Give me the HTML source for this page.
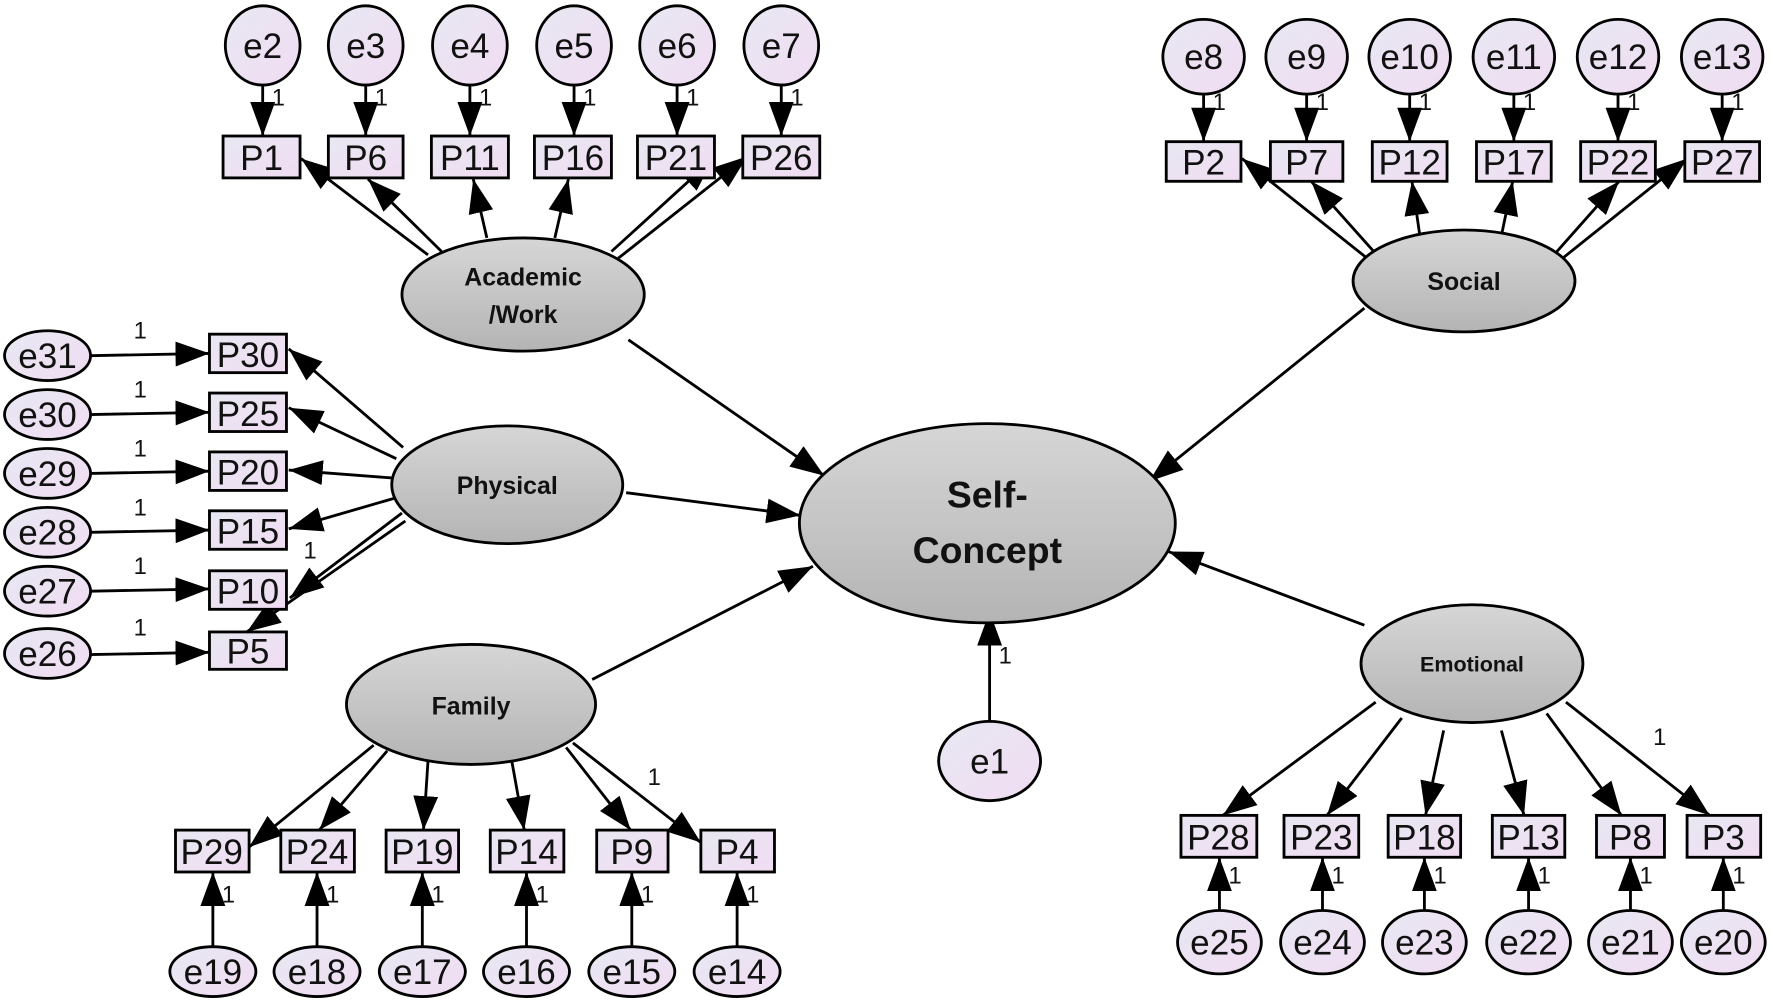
<!DOCTYPE html>
<html><head><meta charset="utf-8"><style>
html,body{margin:0;padding:0;background:#fff;}
svg{display:block;}
text{font-family:"Liberation Sans",sans-serif;fill:#111;}
.b{font-weight:bold;}
</style></head><body>
<svg width="1772" height="1008" viewBox="0 0 1565 890" xmlns="http://www.w3.org/2000/svg">
<defs>
<marker id="a" viewBox="0 0 30 22" refX="30" refY="11" markerWidth="30" markerHeight="22" markerUnits="userSpaceOnUse" orient="auto"><path d="M0,0 L30,11 L0,22 Z" fill="#000"/></marker>
<linearGradient id="g" x1="0" y1="0" x2="0" y2="1"><stop offset="0" stop-color="#d6d6d6"/><stop offset="1" stop-color="#b4b4b4"/></linearGradient>
<linearGradient id="p" x1="0" y1="0" x2="1" y2="1"><stop offset="0" stop-color="#e8e8f2"/><stop offset="1" stop-color="#f0dcf2"/></linearGradient>
</defs>
<g stroke="#000" stroke-width="2.5" fill="none" marker-end="url(#a)">
<line x1="232" y1="76" x2="232" y2="120"/><line x1="323" y1="76" x2="323" y2="120"/><line x1="415" y1="76" x2="415" y2="120"/><line x1="507" y1="76" x2="507" y2="120"/><line x1="598" y1="76" x2="598" y2="120"/><line x1="690" y1="76" x2="690" y2="120"/>
<line x1="1063" y1="84" x2="1063" y2="125"/><line x1="1154" y1="84" x2="1154" y2="125"/><line x1="1245" y1="84" x2="1245" y2="125"/><line x1="1337" y1="84" x2="1337" y2="125"/><line x1="1429" y1="84" x2="1429" y2="125"/><line x1="1521" y1="84" x2="1521" y2="125"/>
<line x1="378" y1="225" x2="266" y2="140"/><line x1="390" y1="222" x2="325" y2="158"/><line x1="430" y1="210" x2="418" y2="158"/><line x1="490" y1="210" x2="502" y2="158"/><line x1="540" y1="222" x2="630" y2="140"/><line x1="546" y1="228" x2="660" y2="138"/>
<line x1="1210" y1="230" x2="1097" y2="140"/><line x1="1216" y1="225" x2="1158" y2="160"/><line x1="1254" y1="208" x2="1247" y2="160"/><line x1="1326" y1="208" x2="1336" y2="160"/><line x1="1375" y1="222" x2="1430" y2="160"/><line x1="1380" y1="228" x2="1490" y2="140"/>
<line x1="80" y1="314" x2="185" y2="312"/><line x1="80" y1="366" x2="185" y2="364"/><line x1="80" y1="418" x2="185" y2="416"/><line x1="80" y1="470" x2="185" y2="468"/><line x1="80" y1="522" x2="185" y2="520"/><line x1="80" y1="578" x2="185" y2="576"/>
<line x1="356" y1="395" x2="255" y2="308"/><line x1="350" y1="405" x2="255" y2="360"/><line x1="346" y1="422" x2="255" y2="415"/><line x1="348" y1="440" x2="255" y2="467"/><line x1="355" y1="453" x2="256" y2="528"/><line x1="358" y1="460" x2="218" y2="558"/>
<line x1="330" y1="658" x2="220" y2="748"/><line x1="342" y1="663" x2="282" y2="733"/><line x1="378" y1="672" x2="374" y2="733"/><line x1="452" y1="672" x2="463" y2="733"/><line x1="500" y1="660" x2="557" y2="733"/><line x1="506" y1="656" x2="619" y2="744"/>
<line x1="188" y1="840" x2="188" y2="770"/><line x1="280" y1="840" x2="280" y2="770"/><line x1="373" y1="840" x2="373" y2="770"/><line x1="465" y1="840" x2="465" y2="770"/><line x1="558" y1="840" x2="558" y2="770"/><line x1="651" y1="840" x2="651" y2="770"/>
<line x1="1215" y1="620" x2="1080" y2="720"/><line x1="1238" y1="634" x2="1172" y2="720"/><line x1="1275" y1="645" x2="1259" y2="720"/><line x1="1326" y1="645" x2="1346" y2="720"/><line x1="1366" y1="630" x2="1432" y2="720"/><line x1="1383" y1="620" x2="1510" y2="720"/>
<line x1="1077" y1="805" x2="1077" y2="757"/><line x1="1168" y1="805" x2="1168" y2="757"/><line x1="1258" y1="805" x2="1258" y2="757"/><line x1="1350" y1="805" x2="1350" y2="757"/><line x1="1440" y1="805" x2="1440" y2="757"/><line x1="1522" y1="805" x2="1522" y2="757"/>
<line x1="555" y1="300" x2="728" y2="420"/><line x1="1205" y1="272" x2="1015" y2="425"/><line x1="553" y1="435" x2="707" y2="455"/><line x1="523" y1="600" x2="718" y2="500"/><line x1="1205" y1="552" x2="1032" y2="487"/><line x1="874" y1="637" x2="874" y2="540"/>
</g>
<g stroke="#000" stroke-width="2.5" fill="url(#g)">
<ellipse cx="462" cy="260" rx="107" ry="50"/>
<ellipse cx="1293" cy="248" rx="98" ry="45"/>
<ellipse cx="448" cy="428" rx="102" ry="52"/>
<ellipse cx="416" cy="622" rx="110" ry="53"/>
<ellipse cx="1300" cy="586" rx="98" ry="52"/>
<ellipse cx="872" cy="462" rx="166" ry="88"/>
</g>
<g text-anchor="middle" font-size="22">
<text x="462" y="252" class="b">Academic</text><text x="462" y="285" class="b">/Work</text>
<text x="1293" y="256" class="b">Social</text>
<text x="448" y="436" class="b">Physical</text>
<text x="416" y="631" class="b">Family</text>
<text x="1300" y="593" class="b" font-size="19">Emotional</text>
<text x="872" y="448" class="b" font-size="33">Self-</text><text x="872" y="497" class="b" font-size="33">Concept</text>
</g>
<g stroke="#000" stroke-width="2.5" fill="url(#p)">
<ellipse cx="232" cy="40" rx="33" ry="35"/><ellipse cx="323" cy="40" rx="33" ry="35"/><ellipse cx="415" cy="40" rx="33" ry="35"/><ellipse cx="507" cy="40" rx="33" ry="35"/><ellipse cx="598" cy="40" rx="33" ry="35"/><ellipse cx="690" cy="40" rx="33" ry="35"/>
<ellipse cx="1063" cy="50" rx="36" ry="33"/><ellipse cx="1154" cy="50" rx="36" ry="33"/><ellipse cx="1245" cy="50" rx="36" ry="33"/><ellipse cx="1337" cy="50" rx="36" ry="33"/><ellipse cx="1429" cy="50" rx="36" ry="33"/><ellipse cx="1521" cy="50" rx="36" ry="33"/>
<ellipse cx="42" cy="314" rx="38" ry="22"/><ellipse cx="42" cy="366" rx="38" ry="22"/><ellipse cx="42" cy="418" rx="38" ry="22"/><ellipse cx="42" cy="470" rx="38" ry="22"/><ellipse cx="42" cy="522" rx="38" ry="22"/><ellipse cx="42" cy="577" rx="38" ry="22"/>
<ellipse cx="188" cy="858" rx="38" ry="22"/><ellipse cx="280" cy="858" rx="38" ry="22"/><ellipse cx="373" cy="858" rx="38" ry="22"/><ellipse cx="465" cy="858" rx="38" ry="22"/><ellipse cx="558" cy="858" rx="38" ry="22"/><ellipse cx="651" cy="858" rx="38" ry="22"/>
<ellipse cx="1077" cy="832" rx="37" ry="28"/><ellipse cx="1168" cy="832" rx="37" ry="28"/><ellipse cx="1258" cy="832" rx="37" ry="28"/><ellipse cx="1350" cy="832" rx="37" ry="28"/><ellipse cx="1440" cy="832" rx="37" ry="28"/><ellipse cx="1522" cy="832" rx="37" ry="28"/>
<ellipse cx="874" cy="672" rx="45" ry="35"/>
</g>
<g stroke="#000" stroke-width="2.5" fill="url(#p)">
<rect x="197" y="120" width="68" height="37"/><rect x="290" y="120" width="66" height="37"/><rect x="381" y="120" width="68" height="37"/><rect x="472" y="120" width="68" height="37"/><rect x="563" y="120" width="68" height="37"/><rect x="656" y="120" width="68" height="37"/>
<rect x="1030" y="125" width="66" height="35"/><rect x="1122" y="125" width="64" height="35"/><rect x="1212" y="125" width="66" height="35"/><rect x="1304" y="125" width="66" height="35"/><rect x="1396" y="125" width="66" height="35"/><rect x="1488" y="125" width="66" height="35"/>
<rect x="185" y="295" width="68" height="34"/><rect x="185" y="347" width="68" height="34"/><rect x="185" y="399" width="68" height="34"/><rect x="185" y="451" width="68" height="34"/><rect x="185" y="504" width="68" height="34"/><rect x="185" y="558" width="68" height="33"/>
<rect x="155" y="733" width="65" height="37"/><rect x="248" y="733" width="65" height="37"/><rect x="341" y="733" width="64" height="37"/><rect x="433" y="733" width="65" height="37"/><rect x="527" y="733" width="63" height="37"/><rect x="619" y="733" width="65" height="37"/>
<rect x="1043" y="720" width="67" height="37"/><rect x="1134" y="720" width="66" height="37"/><rect x="1226" y="720" width="64" height="37"/><rect x="1318" y="720" width="64" height="37"/><rect x="1410" y="720" width="60" height="37"/><rect x="1490" y="720" width="65" height="37"/>
</g>
<g text-anchor="middle" font-size="31">
<text x="232" y="51">e2</text><text x="323" y="51">e3</text><text x="415" y="51">e4</text><text x="507" y="51">e5</text><text x="598" y="51">e6</text><text x="690" y="51">e7</text>
<text x="1063" y="61">e8</text><text x="1154" y="61">e9</text><text x="1245" y="61">e10</text><text x="1337" y="61">e11</text><text x="1429" y="61">e12</text><text x="1521" y="61">e13</text>
<text x="42" y="325">e31</text><text x="42" y="377">e30</text><text x="42" y="429">e29</text><text x="42" y="481">e28</text><text x="42" y="533">e27</text><text x="42" y="588">e26</text>
<text x="188" y="869">e19</text><text x="280" y="869">e18</text><text x="373" y="869">e17</text><text x="465" y="869">e16</text><text x="558" y="869">e15</text><text x="651" y="869">e14</text>
<text x="1077" y="843">e25</text><text x="1168" y="843">e24</text><text x="1258" y="843">e23</text><text x="1350" y="843">e22</text><text x="1440" y="843">e21</text><text x="1522" y="843">e20</text>
<text x="874" y="683">e1</text>
<text x="231" y="150">P1</text><text x="323" y="150">P6</text><text x="415" y="150">P11</text><text x="506" y="150">P16</text><text x="597" y="150">P21</text><text x="690" y="150">P26</text>
<text x="1063" y="154">P2</text><text x="1154" y="154">P7</text><text x="1245" y="154">P12</text><text x="1337" y="154">P17</text><text x="1429" y="154">P22</text><text x="1521" y="154">P27</text>
<text x="219" y="324">P30</text><text x="219" y="376">P25</text><text x="219" y="428">P20</text><text x="219" y="480">P15</text><text x="219" y="533">P10</text><text x="219" y="586">P5</text>
<text x="187" y="763">P29</text><text x="280" y="763">P24</text><text x="373" y="763">P19</text><text x="465" y="763">P14</text><text x="558" y="763">P9</text><text x="651" y="763">P4</text>
<text x="1076" y="750">P28</text><text x="1167" y="750">P23</text><text x="1258" y="750">P18</text><text x="1350" y="750">P13</text><text x="1440" y="750">P8</text><text x="1522" y="750">P3</text>
</g>
<g font-size="21">
<text x="240" y="93">1</text><text x="331" y="93">1</text><text x="423" y="93">1</text><text x="515" y="93">1</text><text x="606" y="93">1</text><text x="698" y="93">1</text>
<text x="1071" y="97">1</text><text x="1162" y="97">1</text><text x="1253" y="97">1</text><text x="1345" y="97">1</text><text x="1437" y="97">1</text><text x="1529" y="97">1</text>
<text x="118" y="299">1</text><text x="118" y="351">1</text><text x="118" y="403">1</text><text x="118" y="455">1</text><text x="118" y="507">1</text><text x="118" y="561">1</text>
<text x="196" y="797">1</text><text x="288" y="797">1</text><text x="381" y="797">1</text><text x="473" y="797">1</text><text x="566" y="797">1</text><text x="659" y="797">1</text>
<text x="1085" y="780">1</text><text x="1176" y="780">1</text><text x="1266" y="780">1</text><text x="1358" y="780">1</text><text x="1448" y="780">1</text><text x="1530" y="780">1</text>
<text x="882" y="586">1</text><text x="572" y="693">1</text><text x="1460" y="658">1</text><text x="268" y="493">1</text>
</g>
</svg>
</body></html>
